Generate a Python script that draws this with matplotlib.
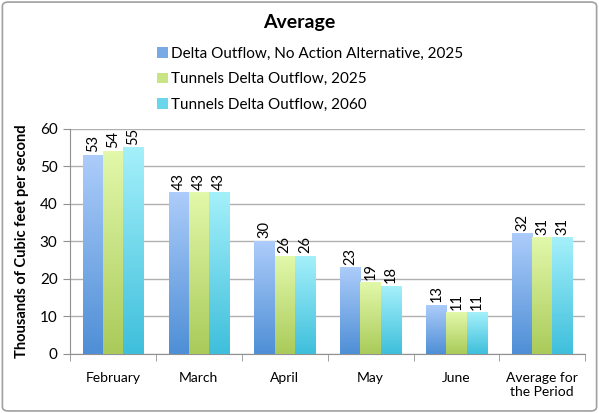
import numpy as np
import matplotlib
matplotlib.use("Agg")
import matplotlib.pyplot as plt
from matplotlib.patches import Patch, FancyBboxPatch

plt.rcParams['font.family'] = ['Lato', 'DejaVu Sans']

categories = ["February", "March", "April", "May", "June", "Average for\nthe Period"]
series_names = ["Delta Outflow, No Action Alternative, 2025",
                "Tunnels Delta Outflow, 2025",
                "Tunnels Delta Outflow, 2060"]
no_action_2025 = [53, 43, 30, 23, 13, 32]
tunnels_2025 = [54, 43, 26, 19, 11, 31]
tunnels_2060 = [55, 43, 26, 18, 11, 31]

# colour at top and bottom of each bar gradient
top_colors = ["#acccfa", "#e2f8aa", "#a4f0fa"]
bottom_colors = ["#4f8fd6", "#aacb5a", "#3fbfdc"]
legend_colors = ["#7aaae6", "#c8e484", "#6ad6ec"]

fig = plt.figure(figsize=(5.99, 4.13), dpi=100)
ax = fig.add_axes([0.117, 0.143, 0.86, 0.545])

x = np.arange(len(categories))
width = 0.235
data = [no_action_2025, tunnels_2025, tunnels_2060]


def gradient(c_top, c_bot, n=64):
    t = np.linspace(0, 1, n)[:, None]
    a = np.array(matplotlib.colors.to_rgb(c_top))
    b = np.array(matplotlib.colors.to_rgb(c_bot))
    return (a * (1 - t) + b * t)[:, None, :]


for i, vals in enumerate(data):
    img = gradient(top_colors[i], bottom_colors[i])
    for xi, v in zip(x, vals):
        x0 = xi + (i - 1) * width - width / 2
        ax.imshow(img, extent=[x0, x0 + width, 0, v], aspect='auto',
                  interpolation='bilinear', zorder=3)
        ax.text(x0 + width / 2, v + 0.8, str(v), rotation=90, ha='center',
                va='bottom', fontsize=10.5, color='black', zorder=4)

ax.set_xlim(-0.5, len(categories) - 0.5)
ax.set_ylim(0, 60)
ax.set_yticks(range(0, 61, 10))
ax.yaxis.grid(True, color='#b0b0b0', linewidth=1.0, zorder=0)
ax.set_axisbelow(True)

ax.set_xticks(x)
ax.set_xticklabels(categories, fontsize=10)
ax.set_xticks(np.arange(-0.5, len(categories)), minor=True)
ax.tick_params(axis='x', which='major', length=0, pad=13)
ax.tick_params(axis='x', which='minor', length=5, color='#909090')
ax.tick_params(axis='y', length=5, color='#909090', labelsize=11, pad=4)

for s in ['top', 'right']:
    ax.spines[s].set_visible(False)
for s in ['left', 'bottom']:
    ax.spines[s].set_color('#909090')

ax.set_ylabel("Thousands of Cubic feet per second", fontsize=10.5,
              fontweight='bold', labelpad=8)

fig.text(0.5, 0.945, "Average", ha='center', va='center', fontsize=14,
         fontweight='bold')

handles = [Patch(facecolor=c, edgecolor='none') for c in legend_colors]
fig.legend(handles, series_names, loc='upper left',
           bbox_to_anchor=(0.25, 0.905), frameon=False, fontsize=11,
           handlelength=0.7, handleheight=0.7, handletextpad=0.2,
           labelspacing=0.75, borderpad=0)

fig.patches.append(FancyBboxPatch((0.004, 0.005), 0.992, 0.99,
                                  boxstyle="round,pad=0,rounding_size=0.01",
                                  transform=fig.transFigure, facecolor='none',
                                  edgecolor='#a0a0a0', linewidth=1.2))

fig.savefig("out.png", dpi=100)
